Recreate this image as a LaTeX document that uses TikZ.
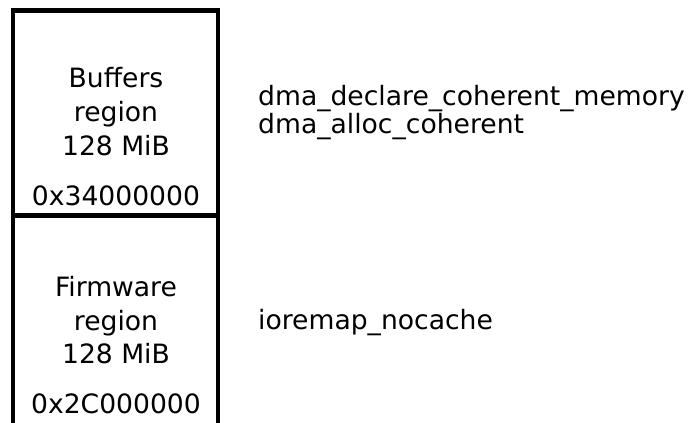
\documentclass[tikz,border=0pt]{standalone}
\usepackage{fontspec}
\setmainfont{DejaVu Sans}
\begin{document}
\begin{tikzpicture}[x=1pt,y=-1pt,
  lbl/.style={inner sep=0pt,anchor=base,font=\fontsize{26.6}{30}\selectfont},
  rlbl/.style={inner sep=0pt,anchor=base west,font=\fontsize{26.6}{30}\selectfont},
  wall/.style={line width=4.5pt}]
\useasboundingbox (0,0) rectangle (689,423);
\coordinate (bl) at (13,423);
\coordinate (tl) at (13,10.5);
\coordinate (tr) at (218,10.5);
\coordinate (br) at (218,423);
\coordinate (ml) at (13,215.5);
\coordinate (mr) at (218,215.5);
\draw[wall] (bl) -- (tl) -- (tr) -- (br);
\draw[wall] (ml) -- (mr);
\node[lbl] (b1) at (116,87) {Buffers};
\node[lbl] (b2) at (116,121) {region};
\node[lbl] (b3) at (116,155) {128 MiB};
\node[lbl] (b4) at (116,205) {0x34000000};
\node[lbl] (f1) at (116,296) {Firmware};
\node[lbl] (f2) at (116,330) {region};
\node[lbl] (f3) at (116,363) {128 MiB};
\node[lbl] (f4) at (116,413) {0x2C000000};
\node[rlbl] (d1) at (258,105) {dma\_declare\_coherent\_memory};
\node[rlbl] (d2) at (258,133) {dma\_alloc\_coherent};
\node[rlbl] (io) at (258,329) {ioremap\_nocache};
\end{tikzpicture}
\end{document}
